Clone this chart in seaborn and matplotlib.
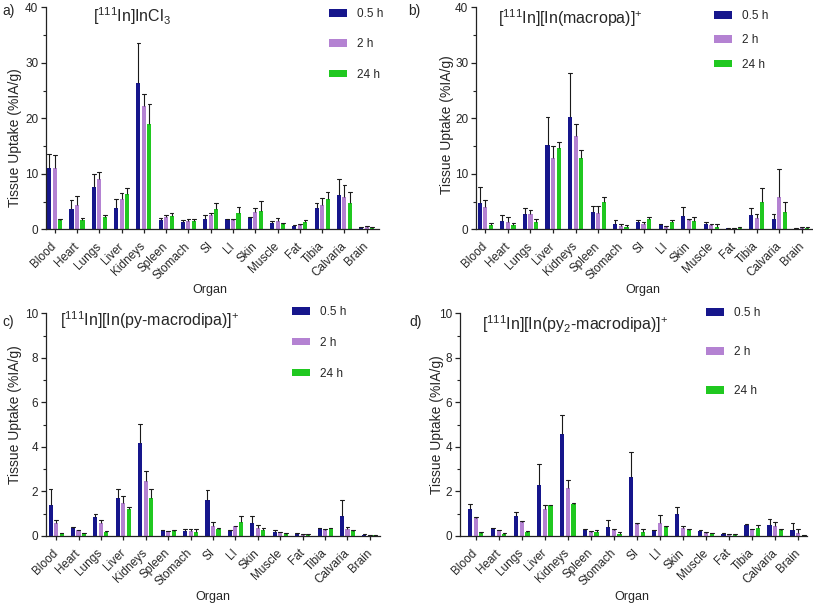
import matplotlib
matplotlib.use("Agg")
import matplotlib.pyplot as plt
import matplotlib.ticker as mticker
from matplotlib.patches import Patch
import numpy as np
import pandas as pd
import seaborn as sns

sns.set_theme(style="ticks")
plt.rcParams['font.family'] = ['Liberation Sans', 'DejaVu Sans']
plt.rcParams['mathtext.default'] = 'regular'

organs = ["Blood", "Heart", "Lungs", "Liver", "Kidneys", "Spleen", "Stomach", "SI",
          "LI", "Skin", "Muscle", "Fat", "Tibia", "Calvaria", "Brain"]
times = ["0.5 h", "2 h", "24 h"]
colors = ["#16168C", "#B482D2", "#20C820"]

# ---- a) [111In]InCl3 : mean and top of error bar (mean + SD)
a_mean_05 = [11.1, 3.6, 7.6, 3.9, 26.4, 1.7, 1.4, 1.9, 1.8, 2.0, 1.2, 0.6, 3.8, 6.2, 0.4]
a_mean_2 = [11.0, 4.3, 9.1, 5.4, 22.2, 2.2, 1.5, 2.6, 1.7, 3.1, 1.5, 0.7, 4.4, 5.8, 0.4]
a_mean_24 = [1.6, 1.6, 2.2, 6.4, 18.9, 2.4, 1.5, 3.6, 2.9, 3.3, 1.0, 1.4, 5.5, 4.8, 0.3]
a_up_05 = [13.5, 5.2, 10.0, 5.5, 33.5, 2.0, 1.7, 2.5, 1.9, 2.2, 1.5, 0.7, 4.8, 9.0, 0.5]
a_up_2 = [13.4, 6.0, 10.3, 6.6, 24.4, 2.5, 1.8, 2.9, 1.9, 3.8, 2.0, 0.9, 5.6, 8.0, 0.6]
a_up_24 = [1.9, 2.0, 2.6, 7.4, 22.5, 2.9, 1.9, 4.7, 4.0, 5.1, 1.2, 1.7, 6.8, 6.7, 0.5]

# ---- b) [111In][In(macropa)]+
b_mean_05 = [4.8, 1.5, 2.7, 15.2, 20.2, 3.2, 1.0, 1.3, 0.9, 2.4, 1.0, 0.2, 2.5, 1.9, 0.1]
b_mean_2 = [4.1, 1.4, 2.8, 12.9, 16.9, 3.0, 0.6, 1.0, 0.5, 1.7, 0.8, 0.2, 2.1, 5.8, 0.2]
b_mean_24 = [0.8, 0.8, 1.4, 14.6, 12.8, 4.9, 0.5, 1.8, 1.4, 1.5, 0.5, 0.3, 5.0, 3.2, 0.2]
b_up_05 = [7.7, 2.5, 3.8, 20.2, 28.2, 4.2, 1.6, 1.6, 1.0, 4.0, 1.3, 0.3, 3.9, 2.7, 0.2]
b_up_2 = [5.3, 2.2, 3.4, 15.0, 18.9, 4.2, 1.0, 1.4, 0.6, 1.9, 0.9, 0.3, 2.8, 10.9, 0.4]
b_up_24 = [1.2, 1.2, 1.9, 15.8, 14.3, 5.9, 0.7, 2.3, 1.6, 2.2, 0.9, 0.5, 7.5, 5.0, 0.4]

# ---- c) [111In][In(py-macrodipa)]+
c_mean_05 = [1.38, 0.37, 0.84, 1.70, 4.19, 0.27, 0.22, 1.60, 0.22, 0.58, 0.20, 0.08, 0.35, 0.88, 0.06]
c_mean_2 = [0.60, 0.25, 0.57, 1.50, 2.45, 0.22, 0.22, 0.47, 0.44, 0.35, 0.17, 0.06, 0.25, 0.30, 0.04]
c_mean_24 = [0.12, 0.12, 0.20, 1.20, 1.72, 0.23, 0.18, 0.33, 0.64, 0.25, 0.10, 0.05, 0.35, 0.22, 0.03]
c_up_05 = [2.12, 0.42, 0.97, 2.10, 5.05, 0.29, 0.32, 2.05, 0.25, 0.90, 0.26, 0.14, 0.38, 1.62, 0.07]
c_up_2 = [0.70, 0.28, 0.72, 1.78, 2.90, 0.24, 0.32, 0.65, 0.47, 0.50, 0.20, 0.09, 0.32, 0.42, 0.05]
c_up_24 = [0.14, 0.13, 0.24, 1.28, 2.10, 0.25, 0.30, 0.38, 0.90, 0.35, 0.14, 0.10, 0.38, 0.28, 0.04]

# ---- d) [111In][In(py2-macrodipa)]+
d_mean_05 = [1.21, 0.35, 0.92, 2.29, 4.57, 0.25, 0.40, 2.65, 0.25, 1.00, 0.22, 0.08, 0.50, 0.48, 0.25]
d_mean_2 = [0.80, 0.27, 0.62, 1.22, 2.15, 0.20, 0.25, 0.55, 0.60, 0.38, 0.15, 0.07, 0.30, 0.45, 0.12]
d_mean_24 = [0.14, 0.10, 0.17, 1.37, 1.45, 0.17, 0.10, 0.20, 0.42, 0.25, 0.12, 0.05, 0.37, 0.25, 0.03]
d_up_05 = [1.45, 0.38, 1.10, 3.25, 5.42, 0.33, 0.73, 3.75, 0.27, 1.28, 0.28, 0.13, 0.55, 0.78, 0.60]
d_up_2 = [0.85, 0.29, 0.66, 1.40, 2.50, 0.22, 0.32, 0.58, 0.95, 0.45, 0.17, 0.09, 0.32, 0.63, 0.30]
d_up_24 = [0.17, 0.15, 0.22, 1.38, 1.46, 0.25, 0.16, 0.30, 0.45, 0.32, 0.15, 0.07, 0.50, 0.32, 0.04]

titles = [r"[$^{111}$In]InCl$_3$",
          r"[$^{111}$In][In(macropa)]$^{+}$",
          r"[$^{111}$In][In(py-macrodipa)]$^{+}$",
          r"[$^{111}$In][In(py$_2$-macrodipa)]$^{+}$"]
letters = ["a)", "b)", "c)", "d)"]

W, H = 813, 605
fig = plt.figure(figsize=(W / 100, H / 100), dpi=100)


def px(x, y):
    return (x / W, 1 - y / H)


panels = [
    dict(means=[a_mean_05, a_mean_2, a_mean_24], ups=[a_up_05, a_up_2, a_up_24],
         box=(46, 379, 7.3, 229.3), xlim=(-0.39, 14.55), ymax=40, major=10, minor=5,
         title_xy=(93, 16), letter_xy=(2, 11), ylab_xy=(15, 138), xlab_xy=(210, 290),
         leg_xy=(329, 8), leg_sp=1.55),
    dict(means=[b_mean_05, b_mean_2, b_mean_24], ups=[b_up_05, b_up_2, b_up_24],
         box=(476, 812, 7.3, 229.3), xlim=(-0.41, 14.45), ymax=40, major=10, minor=5,
         title_xy=(498, 18), letter_xy=(408, 11), ylab_xy=(447, 125), xlab_xy=(643, 290),
         leg_xy=(714, 10), leg_sp=1.05),
    dict(means=[c_mean_05, c_mean_2, c_mean_24], ups=[c_up_05, c_up_2, c_up_24],
         box=(46, 380, 313.3, 536), xlim=(-0.45, 14.45), ymax=10, major=2, minor=1,
         title_xy=(60, 320), letter_xy=(2, 322), ylab_xy=(15, 415), xlab_xy=(213, 597),
         leg_xy=(292, 306), leg_sp=1.6),
    dict(means=[d_mean_05, d_mean_2, d_mean_24], ups=[d_up_05, d_up_2, d_up_24],
         box=(460, 807, 313.3, 536), xlim=(-0.68, 14.38), ymax=10, major=2, minor=1,
         title_xy=(482, 324), letter_xy=(409, 322), ylab_xy=(437, 425), xlab_xy=(632, 597),
         leg_xy=(706, 307), leg_sp=2.3),
]

for i, p in enumerate(panels):
    l, r, t, b = p["box"]
    ax = fig.add_axes([l / W, 1 - b / H, (r - l) / W, (b - t) / H])
    rows = []
    for ti, tm in enumerate(times):
        for oi, org in enumerate(organs):
            rows.append(dict(Organ=org, Time=tm, Value=p["means"][ti][oi],
                             Upper=p["ups"][ti][oi]))
    df = pd.DataFrame(rows)
    sns.barplot(data=df, x="Organ", y="Value", hue="Time", order=organs, hue_order=times,
                palette=colors, errorbar=None, width=0.74, gap=0.26, saturation=1,
                linewidth=0, legend=False, ax=ax)
    # error bars (upper whisker only)
    for ti, cont in enumerate(ax.containers):
        for oi, bar in enumerate(cont.patches):
            x = bar.get_x() + bar.get_width() / 2
            m = p["means"][ti][oi]
            u = p["ups"][ti][oi]
            cw = bar.get_width() * 0.45
            ax.plot([x, x], [m, u], color="#1a1a1a", lw=0.8, zorder=5, solid_capstyle="butt")
            ax.plot([x - cw, x + cw], [u, u], color="#1a1a1a", lw=0.8, zorder=5)
    ax.set_xlim(*p["xlim"])
    ax.set_ylim(0, p["ymax"])
    ax.yaxis.set_major_locator(mticker.MultipleLocator(p["major"]))
    ax.yaxis.set_minor_locator(mticker.MultipleLocator(p["minor"]))
    sns.despine(ax=ax)
    for s in ["left", "bottom"]:
        ax.spines[s].set_linewidth(0.9)
        ax.spines[s].set_color("#222222")
    ax.tick_params(axis="y", which="major", length=3.5, width=0.9, labelsize=8.5, pad=2,
                   color="#222222")
    ax.tick_params(axis="y", which="minor", length=2.5, width=0.8, color="#222222")
    ax.tick_params(axis="x", length=3, width=0.9, labelsize=8.5, pad=8, color="#222222")
    ax.set_xlabel("")
    ax.set_ylabel("")
    for lab in ax.get_xticklabels():
        lab.set_rotation(45)
        lab.set_ha("right")
        lab.set_va("center")
        lab.set_rotation_mode("anchor")
    ax.set_facecolor("none")

    fig.text(*px(*p["title_xy"]), titles[i], fontsize=11.5, ha="left", va="center")
    fig.text(*px(*p["letter_xy"]), letters[i], fontsize=10, ha="left", va="center")
    fig.text(*px(*p["ylab_xy"]), "Tissue Uptake (%IA/g)", fontsize=10, rotation=90,
             ha="center", va="center")
    fig.text(*px(*p["xlab_xy"]), "Organ", fontsize=9, ha="center", va="center")

    handles = [Patch(facecolor=c, edgecolor="none", label=tm) for c, tm in zip(colors, times)]
    fig.legend(handles=handles, loc="upper left", bbox_to_anchor=px(*p["leg_xy"]),
               bbox_transform=fig.transFigure, frameon=False, fontsize=8.5,
               handlelength=1.5, handleheight=0.6, handletextpad=0.9,
               labelspacing=p["leg_sp"], borderpad=0, borderaxespad=0)

fig.savefig("out.png", dpi=100)
